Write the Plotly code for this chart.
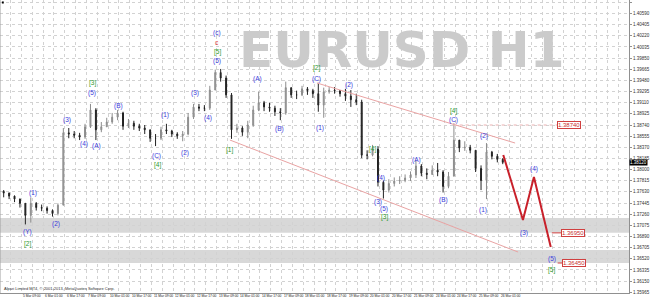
import plotly.graph_objects as go

# ---------------- data ----------------
# candles: one candle per 4 H1 bars, x = bar index
bar_index = list(range(3, 3 + 4 * 93, 4))
open_ = [1.3764,1.3761,1.3756,1.3751,1.3744,1.3724,1.3744,1.3737,1.3736,1.3732,
         1.3727,1.3741,1.3861,1.3859,1.3857,1.3854,1.3871,1.3899,1.3866,1.3871,
         1.3879,1.3887,1.3894,1.3872,1.3877,1.3872,1.3869,1.3866,1.3852,1.3852,
         1.3866,1.3864,1.3859,1.3856,1.3859,1.3887,1.3904,1.3902,1.3902,1.3932,
         1.3961,1.3952,1.3924,1.3866,1.3869,1.3862,1.3874,1.3899,1.3911,1.3904,
         1.3902,1.3896,1.3894,1.3936,1.3924,1.3924,1.3934,1.3931,1.3926,1.3907,
         1.3929,1.3932,1.3931,1.3926,1.3922,1.3916,1.3912,1.3824,1.3824,1.3834,
         1.3779,1.3766,1.3777,1.3781,1.3782,1.3786,1.3791,1.3806,1.3794,1.3792,
         1.3799,1.3796,1.3772,1.3789,1.3849,1.3836,1.3837,1.3832,1.3802,1.3782,
         1.3829,1.3822,1.3817]
high = [1.3766,1.3762,1.3757,1.3752,1.3744,1.3754,1.3746,1.3742,1.3739,1.3734,
        1.3744,1.3869,1.3869,1.3864,1.3861,1.3876,1.3909,1.3902,1.3879,1.3886,
        1.3894,1.3899,1.3896,1.3884,1.3881,1.3876,1.3874,1.3866,1.3859,1.3871,
        1.3876,1.3866,1.3862,1.3864,1.3894,1.3909,1.3909,1.3907,1.3939,1.3966,
        1.3967,1.3956,1.3927,1.3876,1.3872,1.3881,1.3906,1.3929,1.3914,1.3911,
        1.3906,1.3902,1.3946,1.3936,1.3931,1.3939,1.3937,1.3934,1.3944,1.3936,
        1.3937,1.3937,1.3932,1.3934,1.3932,1.3926,1.3916,1.3832,1.3841,1.3839,
        1.3782,1.3784,1.3787,1.3789,1.3792,1.3797,1.3816,1.3809,1.3802,1.3807,
        1.3811,1.3799,1.3796,1.3877,1.3849,1.3847,1.3841,1.3832,1.3807,1.3844,
        1.3831,1.3826,1.3819]
low = [1.3754,1.3751,1.3746,1.3737,1.3709,1.3712,1.3732,1.3731,1.3727,1.3722,
       1.3724,1.3741,1.3852,1.3852,1.3849,1.3851,1.3869,1.3849,1.3862,1.3871,
       1.3876,1.3882,1.3866,1.3869,1.3866,1.3864,1.3859,1.3846,1.3839,1.3849,
       1.3859,1.3854,1.3851,1.3847,1.3857,1.3884,1.3897,1.3897,1.3899,1.3932,
       1.3946,1.3919,1.3851,1.3861,1.3856,1.3852,1.3871,1.3897,1.3897,1.3896,
       1.3889,1.3882,1.3891,1.3919,1.3917,1.3922,1.3924,1.3919,1.3896,1.3886,
       1.3926,1.3926,1.3921,1.3914,1.3904,1.3907,1.3819,1.3817,1.3822,1.3772,
       1.3752,1.3762,1.3772,1.3776,1.3779,1.3781,1.3786,1.3789,1.3784,1.3791,
       1.3789,1.3762,1.3769,1.3789,1.3829,1.3831,1.3827,1.3796,1.3766,1.3751,
       1.3817,1.3812,1.3809]
close = [1.3761,1.3756,1.3751,1.3744,1.3724,1.3744,1.3737,1.3736,1.3732,1.3727,
         1.3741,1.3861,1.3859,1.3857,1.3854,1.3871,1.3899,1.3866,1.3871,1.3879,
         1.3887,1.3894,1.3872,1.3877,1.3872,1.3869,1.3866,1.3852,1.3852,1.3866,
         1.3864,1.3859,1.3856,1.3859,1.3887,1.3904,1.3902,1.3902,1.3932,1.3961,
         1.3952,1.3924,1.3866,1.3869,1.3862,1.3874,1.3899,1.3911,1.3904,1.3902,
         1.3896,1.3894,1.3936,1.3924,1.3924,1.3934,1.3931,1.3926,1.3907,1.3929,
         1.3932,1.3931,1.3926,1.3922,1.3916,1.3912,1.3824,1.3824,1.3834,1.3779,
         1.3766,1.3777,1.3781,1.3782,1.3786,1.3791,1.3806,1.3794,1.3792,1.3799,
         1.3796,1.3772,1.3789,1.3849,1.3836,1.3837,1.3832,1.3802,1.3782,1.3829,
         1.3822,1.3817,1.3812]

# time axis labels (every 16 bars)
time_labels = ["4 Mar 2014", "5 Mar 09:00", "6 Mar 01:00", "6 Mar 17:00", "7 Mar 09:00",
               "10 Mar 01:00", "10 Mar 17:00", "11 Mar 09:00", "12 Mar 01:00", "12 Mar 17:00",
               "13 Mar 09:00", "14 Mar 01:00", "14 Mar 17:00", "17 Mar 09:00", "18 Mar 01:00",
               "18 Mar 17:00", "19 Mar 09:00", "20 Mar 01:00", "20 Mar 17:00", "21 Mar 09:00",
               "24 Mar 01:00", "24 Mar 17:00", "25 Mar 09:00", "26 Mar 01:00"]
time_label_bars = [16 * i for i in range(len(time_labels))]

# price axis labels
price_ticks = [1.40775, 1.40590, 1.40405, 1.40220, 1.40035, 1.39850, 1.39665, 1.39480,
               1.39295, 1.39110, 1.38925, 1.38740, 1.38555, 1.38370, 1.38185, 1.38000,
               1.37815, 1.37630, 1.37445, 1.37260, 1.37075, 1.36890, 1.36705, 1.36520,
               1.36335, 1.36150, 1.35965]
price_tick_text = ["%.5f" % v for v in price_ticks]

# Elliott wave labels: (text, bar, price)
blue_labels = [("(1)", 24.4, 1.37611), ("(Y)", 20.7, 1.36964), ("(2)", 41.9, 1.37097),
               ("(3)", 50.0, 1.38823), ("(4)", 62.4, 1.38425), ("(5)", 68.2, 1.39271),
               ("(A)", 71.1, 1.38391), ("(B)", 87.9, 1.39055), ("(C)", 115.7, 1.38225),
               ("(1)", 122.3, 1.38906), ("(2)", 136.9, 1.38275), ("(3)", 144.2, 1.39271),
               ("(4)", 153.7, 1.38856), ("(5)", 160.3, 1.39802), ("(c)", 160.3, 1.40267),
               ("(A)", 190.2, 1.39504), ("(B)", 206.3, 1.38674), ("(C)", 234.0, 1.39500),
               ("(1)", 236.2, 1.38690), ("(2)", 257.4, 1.39404), ("(4)", 281.5, 1.37860),
               ("(3)", 279.3, 1.37462), ("(5)", 283.7, 1.37346), ("(A)", 307.1, 1.38159),
               ("(B)", 327.5, 1.37495), ("(C)", 334.8, 1.38823), ("(2)", 357.5, 1.38557),
               ("(1)", 356.8, 1.37329), ("(3)", 386.7, 1.36947), ("(4)", 394.0, 1.38010),
               ("(5)", 407.2, 1.36516)]
green_labels = [("[2]", 20.7, 1.36765), ("[3]", 68.2, 1.39437), ("[4]", 116.4, 1.38076),
                ("[5]", 160.3, 1.39952), ("[1]", 169.8, 1.38325), ("[2]", 234.0, 1.39690),
                ("[4]", 274.9, 1.38342), ("[3]", 283.7, 1.37213), ("[4]", 334.8, 1.38972),
                ("[5]", 407.2, 1.36333)]
red_labels = [("c", 160.3, 1.40101)]

# projected path
proj_bars = [371.4, 385.9, 394.0, 406.4]
proj_prices = [1.38242, 1.37163, 1.37877, 1.36715]
# channel lines
upper_bars = [234.0, 380.1]
upper_prices = [1.39437, 1.38441]
lower_bars = [169.8, 382.3]
lower_prices = [1.38491, 1.36632]
# horizontal levels
zones = [(1.36950, 1.37196), (1.36449, 1.36665)]
level_main = 1.38740
targets = [1.36950, 1.36450]
last_price_text = "1.38120"

X_RANGE = [0.29, 464.1]
Y_RANGE = [1.359522, 1.408143]

# ---------------- figure ----------------
fig = go.Figure()

fig.add_trace(go.Candlestick(
    x=bar_index, open=open_, high=high, low=low, close=close,
    increasing=dict(line=dict(color="#8c8c8c", width=1), fillcolor="#a8a8a8"),
    decreasing=dict(line=dict(color="#222222", width=1), fillcolor="#222222"),
    whiskerwidth=0, hoverinfo="skip", showlegend=False))

chan_col = "#e9a3a3"
fig.add_trace(go.Scatter(x=upper_bars, y=upper_prices, mode="lines",
                         line=dict(color=chan_col, width=1), hoverinfo="skip"))
fig.add_trace(go.Scatter(x=lower_bars, y=lower_prices, mode="lines",
                         line=dict(color=chan_col, width=1), hoverinfo="skip"))
fig.add_trace(go.Scatter(x=[334.8, 411.5], y=[level_main, level_main], mode="lines",
                         line=dict(color="#eab0b0", width=1, dash="dot"), hoverinfo="skip"))
fig.add_trace(go.Scatter(x=[407.2, 414.5], y=[targets[0], targets[0]], mode="lines",
                         line=dict(color="#d04040", width=1), hoverinfo="skip"))
fig.add_trace(go.Scatter(x=[411.5, 415.2], y=[targets[1], targets[1]], mode="lines",
                         line=dict(color="#d04040", width=1), hoverinfo="skip"))
fig.add_trace(go.Scatter(x=proj_bars, y=proj_prices, mode="lines",
                         line=dict(color="#c8202a", width=2), hoverinfo="skip"))

shapes = []
for lo, hi in zones:
    shapes.append(dict(type="rect", xref="paper", x0=0, x1=1, yref="y", y0=lo, y1=hi,
                       fillcolor="#d8d8d8", line=dict(width=0), layer="between"))
shapes.append(dict(type="line", xref="paper", x0=0, x1=0, yref="paper", y0=0, y1=1,
                   line=dict(color="#a0a0a0", width=1)))
shapes.append(dict(type="rect", xref="paper", x0=0.003, x1=0.006, yref="paper", y0=0.988, y1=0.995,
                   fillcolor="#000000", line=dict(width=0)))

annotations = []
annotations.append(dict(text="<b>EURUSD H1</b>", x=0.638, y=0.828, xref="paper", yref="paper",
                        showarrow=False, font=dict(family="DejaVu Sans", size=50, color="#cbcbcb"),
                        xanchor="center", yanchor="middle"))
LBL = 6.5
for txt, b, p in blue_labels:
    annotations.append(dict(text=txt, x=b, y=p, showarrow=False, borderpad=0,
                            font=dict(family="Liberation Sans", size=LBL, color="#3c3cdc")))
for txt, b, p in green_labels:
    annotations.append(dict(text=txt, x=b, y=p, showarrow=False, borderpad=0,
                            font=dict(family="Liberation Sans", size=LBL, color="#2e9a2e")))
for txt, b, p in red_labels:
    annotations.append(dict(text=txt, x=b, y=p, showarrow=False, borderpad=0,
                            font=dict(family="Liberation Sans", size=LBL, color="#e03434")))

for txt, b, p in [("%.5f" % level_main, 419.6, level_main),
                  ("%.5f" % targets[0], 422.9, targets[0]),
                  ("%.5f" % targets[1], 423.2, targets[1])]:
    annotations.append(dict(text=txt, x=b, y=p, showarrow=False, bgcolor="#ffffff",
                            bordercolor="#d04040", borderwidth=1, borderpad=0,
                            font=dict(family="Liberation Sans", size=6, color="#c83030")))

# current price tag on the axis
annotations.append(dict(text=last_price_text, xref="paper", x=1.0, y=close[-1], xanchor="left",
                        showarrow=False, bgcolor="#000000", borderpad=0,
                        font=dict(family="Liberation Sans", size=4.5, color="#ffffff")))

for txt, b in zip(time_labels, time_label_bars):
    annotations.append(dict(text=txt, x=b, xref="x", y=-0.011, yref="paper", xanchor="left",
                            yanchor="middle", xshift=1, showarrow=False, borderpad=0,
                            font=dict(family="Liberation Sans", size=3.3, color="#202020")))

annotations.append(dict(text="Alpari Limited MT4, \u00a9 2001-2013, MetaQuotes Software Corp.",
                        x=0.004, y=0.014, xref="paper", yref="paper", xanchor="left",
                        yanchor="middle", showarrow=False, borderpad=0,
                        font=dict(family="Liberation Sans", size=4, color="#303030")))

fig.update_layout(
    width=650, height=300, margin=dict(l=0, r=15, t=0, b=7),
    paper_bgcolor="#ffffff", plot_bgcolor="#ffffff", showlegend=False,
    shapes=shapes, annotations=annotations, boxgap=0.75,
    xaxis=dict(range=X_RANGE, rangeslider=dict(visible=False), tickvals=list(range(0, 465, 8)),
               showticklabels=False, showgrid=True, gridcolor="#d2d2d2", griddash="dot",
               gridwidth=1, zeroline=False, showline=True, linecolor="#909090", linewidth=1,
               ticks="", fixedrange=True),
    yaxis=dict(range=Y_RANGE, side="right", tickvals=price_ticks, ticktext=price_tick_text,
               tickfont=dict(family="Liberation Sans", size=4.5, color="#303030"),
               showgrid=True, gridcolor="#d2d2d2", griddash="dot", gridwidth=1,
               zeroline=False, showline=True, linecolor="#909090", linewidth=1,
               ticks="outside", ticklen=2, tickcolor="#909090", fixedrange=True),
)

fig.write_html("out.html")
